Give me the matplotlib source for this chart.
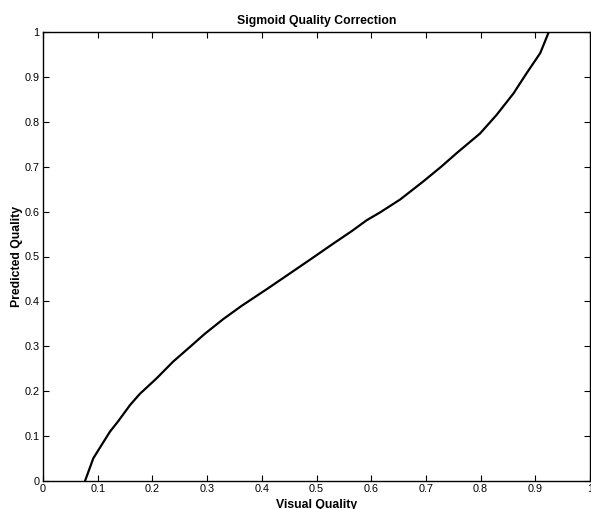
import matplotlib
matplotlib.use("Agg")
import matplotlib.pyplot as plt

visual_quality = [0.0768, 0.092, 0.107, 0.1225, 0.138, 0.159, 0.177, 0.208, 0.238, 0.269,
                  0.296, 0.330, 0.363, 0.410, 0.4516, 0.493, 0.531, 0.565, 0.592, 0.616,
                  0.653, 0.695, 0.728, 0.756, 0.799, 0.829, 0.860, 0.884, 0.909, 0.924]
predicted_quality = [0.0, 0.0506, 0.080, 0.110, 0.134, 0.169, 0.194, 0.229, 0.266, 0.299,
                     0.328, 0.361, 0.390, 0.428, 0.4625, 0.497, 0.529, 0.557, 0.581, 0.598,
                     0.627, 0.667, 0.700, 0.730, 0.774, 0.815, 0.863, 0.908, 0.953, 0.998]

x_ticks = [0, 0.1, 0.2, 0.3, 0.4, 0.5, 0.6, 0.7, 0.8, 0.9, 1]
x_tick_labels = ["0", "0.1", "0.2", "0.3", "0.4", "0.5", "0.6", "0.7", "0.8", "0.9", "1"]
y_ticks = x_ticks
y_tick_labels = x_tick_labels

plt.rcParams['font.family'] = ['Liberation Sans', 'DejaVu Sans']

fig = plt.figure(figsize=(5.91, 5.09), dpi=100)
ax = fig.add_axes([43/591, 28/509, 547/591, 449/509])
ax.plot(visual_quality, predicted_quality, color='black', linewidth=1.6)
ax.set_xlim(0, 1)
ax.set_ylim(0, 1)
ax.set_xticks(x_ticks)
ax.set_xticklabels(x_tick_labels)
ax.set_yticks(y_ticks)
ax.set_yticklabels(y_tick_labels)
ax.tick_params(direction='in', length=4, width=0.8, labelsize=7.8, top=True, right=True,
               colors='black', pad=2.5)
for s in ax.spines.values():
    s.set_linewidth(1.0)
ax.set_title("Sigmoid Quality Correction", fontsize=8.8, fontweight='bold', pad=6)
ax.set_xlabel("Visual Quality", fontsize=8.8, fontweight='bold', labelpad=3.5)
ax.set_ylabel("Predicted Quality", fontsize=8.8, fontweight='bold', labelpad=1)
fig.savefig("out.png", dpi=100)
